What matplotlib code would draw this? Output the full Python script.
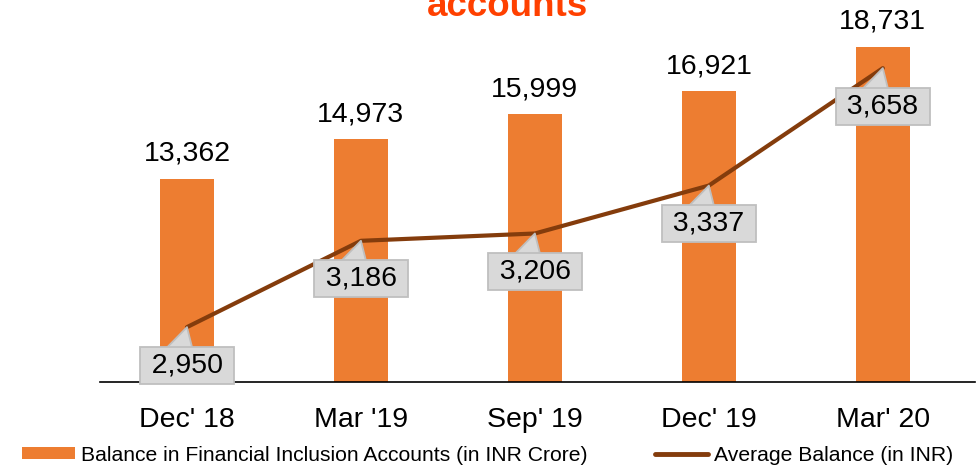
import numpy as np
import matplotlib
matplotlib.use('Agg')
import matplotlib.pyplot as plt
from matplotlib.patches import Patch
from matplotlib.lines import Line2D

plt.rcParams['font.family'] = ['Liberation Sans', 'DejaVu Sans']

# data
quarters = ["Dec' 18", "Mar '19", "Sep' 19", "Dec' 19", "Mar' 20"]
balance_cr = [13362, 14973, 15999, 16921, 18731]
avg_balance = [2950, 3186, 3206, 3337, 3658]

bar_color = '#ED7D31'
line_color = '#843C0C'
box_face = '#D9D9D9'
box_edge = '#BFBFBF'

W, H = 979, 469
fig = plt.figure(figsize=(W / 100, H / 100), dpi=100)
ax = fig.add_axes([100 / W, 87 / H, 875 / W, 372 / H])

x = np.arange(len(quarters))
ax.bar(x, balance_cr, width=0.31, color=bar_color, zorder=2)
ax.set_xlim(-0.5, 4.53)
ax.set_ylim(5106, 20234)

for i, v in enumerate(balance_cr):
    ax.annotate(f'{v:,}', (i, v), xytext=(0, 18), textcoords='offset pixels',
                ha='center', va='baseline', fontsize=20.5)

for s in ['top', 'left', 'right']:
    ax.spines[s].set_visible(False)
ax.spines['bottom'].set_linewidth(1.2)
ax.set_yticks([])
ax.set_xticks(x, quarters, fontsize=20.5)
ax.tick_params(axis='x', length=0, pad=18)

# secondary axis for the average balance line
ax2 = ax.twinx()
ax2.set_ylim(2800, 3817)
ax2.plot(x, avg_balance, color=line_color, lw=3, solid_capstyle='round', zorder=2)
for s in ax2.spines.values():
    s.set_visible(False)
ax2.set_yticks([])

# callout boxes (thin spaces widen the box a little)
for i, v in enumerate(avg_balance):
    ax2.annotate(f'\u2009{v:,}\u2009', xy=(i, v), xytext=(0, -38), textcoords='offset pixels',
                 ha='center', va='center', fontsize=20.5, zorder=4,
                 bbox=dict(boxstyle='square,pad=0.19', fc=box_face, ec=box_edge, lw=1.3),
                 arrowprops=dict(arrowstyle='wedge,tail_width=1.5,shrink_factor=0.5',
                                 fc=box_face, ec=box_edge, lw=1.3, patchA=None,
                                 shrinkA=0, shrinkB=0, relpos=(0.38, 0.55)))

fig.text(508 / W, 1 - 16 / H, 'accounts', ha='center', va='baseline',
         fontsize=26.5, fontweight='bold', color='#FF4000')

handles = [Patch(facecolor=bar_color, edgecolor='none'),
           Line2D([0], [0], color=line_color, lw=3.5, solid_capstyle='round')]
labels = ['Balance in Financial Inclusion Accounts (in INR Crore)',
          'Average Balance (in INR)']
fig.legend(handles, labels, loc='center left', bbox_to_anchor=(22 / W, 1 - 455 / H),
           ncol=2, frameon=False, fontsize=15.2, handlelength=2.5, handleheight=0.5,
           handletextpad=0.3, columnspacing=3.2, borderpad=0, borderaxespad=0)

fig.savefig('out.png', dpi=100)
